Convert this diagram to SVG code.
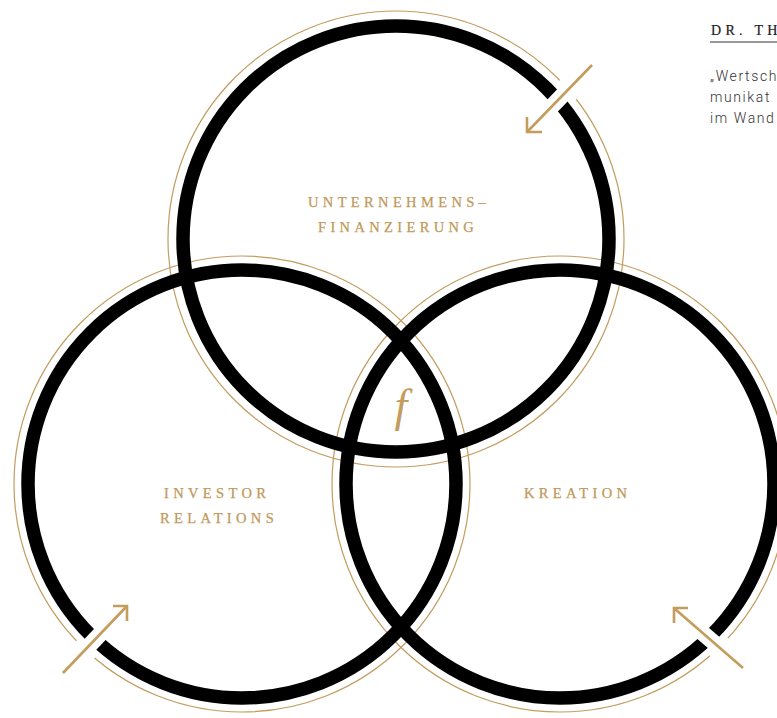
<svg xmlns="http://www.w3.org/2000/svg" width="777" height="718" viewBox="0 0 777 718">
<style>
.gold{fill:none;stroke:#c39c5e;stroke-width:1.2}
.ring{fill:none;stroke:#000;stroke-width:13.5}
.ko{stroke:#fff;stroke-linecap:butt}
.arr{fill:none;stroke:#c39c5e;stroke-width:2.6;stroke-linecap:butt;stroke-linejoin:miter}
.lbl{font-family:"Liberation Serif","Times New Roman",serif;font-size:14.5px;letter-spacing:4.35px;fill:#c0995a;stroke:#c0995a;stroke-width:0.25}
.head{font-family:"Liberation Serif","Times New Roman",serif;font-size:14px;letter-spacing:4.3px;fill:#1a1a1a;stroke:#1a1a1a;stroke-width:0.2}
.body{font-family:Roboto,"Liberation Sans",sans-serif;font-size:14px;font-weight:300;letter-spacing:1.6px;fill:#333}
</style>
<rect width="777" height="718" fill="#fff"/>
<g id="gold-circles">
<circle class="gold" cx="396" cy="239" r="228"/>
<circle class="gold" cx="242" cy="484" r="228"/>
<circle class="gold" cx="560" cy="484" r="228"/>
</g>
<g id="circle-finanzierung">
<circle class="ring" cx="396" cy="239" r="213"/>
<text class="lbl" x="308" y="207">UNTERNEHMENS–</text>
<text class="lbl" x="318" y="232">FINANZIERUNG</text>
</g>
<g id="circle-investor">
<circle class="ring" cx="242" cy="484" r="214"/>
<text class="lbl" x="164" y="498">INVESTOR</text>
<text class="lbl" x="160" y="523">RELATIONS</text>
</g>
<g id="circle-kreation">
<circle class="ring" cx="560" cy="484" r="214"/>
<text class="lbl" x="524" y="498">KREATION</text>
</g>
<g id="center">
<text x="401" y="421" text-anchor="middle" font-family="'Liberation Serif','Times New Roman',serif" font-style="italic" font-size="46" fill="#c39c5e">f</text>
</g>
<g id="connectors">
<line class="ko" x1="564.0" y1="93.8" x2="551.4" y2="106.8" stroke-width="16"/>
<line class="ko" x1="573.2" y1="84.5" x2="563.4" y2="94.5" stroke-width="25"/>
<line class="ko" x1="101.2" y1="633.0" x2="88.8" y2="646.0" stroke-width="16"/>
<line class="ko" x1="89.4" y1="645.3" x2="79.8" y2="655.5" stroke-width="25"/>
<line class="ko" x1="701.8" y1="632.2" x2="715.4" y2="644.0" stroke-width="16"/>
<line class="ko" x1="714.6" y1="643.3" x2="725.2" y2="652.5" stroke-width="25"/>
<line class="arr" x1="592" y1="65" x2="528" y2="131"/>
<polyline class="arr" points="527,117 527,132 542,132"/>
<line class="arr" x1="63" y1="673" x2="126" y2="607"/>
<polyline class="arr" points="113,606 127,606 127,621"/>
<line class="arr" x1="743" y1="668" x2="675" y2="609"/>
<polyline class="arr" points="688,608 674,608 674,623"/>
</g>
<g id="sidebar">
<text class="head" x="711" y="35">DR. TH</text>
<line x1="710" y1="42" x2="777" y2="42" stroke="#333" stroke-width="1"/>
<text class="body" x="710" y="81">„Wertsch</text>
<text class="body" x="710" y="102">munikat</text>
<text class="body" x="710" y="123">im Wand</text>
</g>
</svg>
